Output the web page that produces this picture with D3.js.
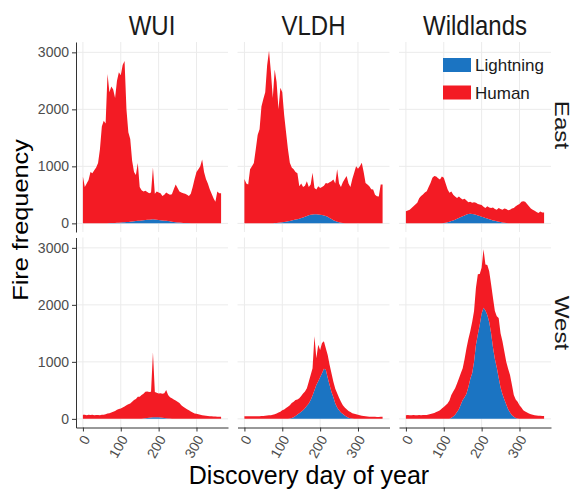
<!DOCTYPE html>
<html>
<head>
<meta charset="utf-8">
<script src="https://cdn.jsdelivr.net/npm/d3@7"></script>
<style>
  body { margin: 0; background: #fff; }
  text { font-family: "Liberation Sans", Arial, sans-serif; }
</style>
</head>
<body>
<script>
// day of year, 5-day steps
var days = d3.range(0, 365, 5);
var regions = ["WUI", "VLDH", "Wildlands"];
var zones = ["East", "West"];
var causes = ["Lightning", "Human"];
var xTicks = [0, 100, 200, 300];
var yTicks = [0, 1000, 2000, 3000];

var wuiEastLightning = [3,3,3,3,3,3,3,3,3,3, 3,3,3,4,5,6,7,8,10,12, 15,18,20,23,25,29,33,37,40,44, 48,52,55,58,62,65,68,70,68,64, 60,56,52,48,45,40,35,30,25,20, 16,13,10,8,6,5,5,4,4,4, 3,3,3,3,3,3,3,3,3,3, 3,3,3];
var wuiEastHuman = [817,637,697,757,897,877,927,977,1057,1297, 1697,1797,1747,2616,2295,2394,2343,2192,2490,2638, 2585,2762,2830,1977,1575,1451,1067,863,810,1016, 592,528,505,512,488,465,472,910,452,496, 480,474,428,452,495,480,465,480,575,660, 604,547,530,522,514,495,475,516,636,776, 897,947,997,1117,897,777,697,597,517,437, 377,557,527];

var vldhEastLightning = [3,3,3,3,3,3,3,3,3,3, 3,3,3,3,3,3,5,8,12,16, 20,25,30,36,42,50,58,66,74,82, 94,105,118,130,142,150,155,160,158,155, 150,145,138,128,115,95,75,55,40,28, 18,10,6,4,4,4,4,3,3,3, 3,3,3,3,3,3,3,3,3,3, 3,3,3];
var vldhEastHuman = [777,697,677,947,997,1057,1297,1547,1647,2047, 2177,2297,2767,3027,2647,2197,2695,2472,1988,2364, 2280,1875,1570,1264,1023,930,892,834,806,568, 606,535,542,610,498,530,735,460,436,495, 470,495,522,582,585,625,665,715,660,922, 682,630,714,776,826,696,636,777,887,997, 957,997,1062,897,707,677,647,597,591,497, 473,467,677];

var wildEastLightning = [2,2,2,2,2,2,2,2,2,2, 2,2,2,2,2,2,2,2,2,2, 5,10,18,28,40,52,65,80,95,110, 125,140,155,165,170,165,158,150,140,130, 118,106,95,84,72,62,52,44,36,30, 22,15,9,5,3,3,3,3,3,3, 3,3,3,3,3,3,3,3,3,3, 3,3,3];
var wildEastHuman = [210,223,238,268,298,328,358,438,478,504, 538,563,638,708,798,828,818,788,768,818, 795,690,582,507,520,448,405,367,375,330, 293,290,245,205,210,195,212,210,200,200, 202,184,175,216,208,208,228,206,204,240, 228,225,251,245,227,237,257,267,297,317, 337,377,387,377,337,297,257,237,217,197, 177,207,187];

var wuiWestLightning = [1,1,1,1,1,1,1,1,1,1, 1,1,1,1,1,1,1,1,1,1, 1,1,1,1,1,1,1,1,1,1, 2,4,6,10,15,20,25,28,30,30, 28,24,20,16,12,8,5,3,2,1, 1,1,1,1,1,1,1,1,1,1, 1,1,1,1,1,1,1,1,1,1, 1,1,1];
var wuiWestHuman = [69,71,64,69,65,69,63,65,67,64, 69,71,79,93,99,109,123,139,159,174, 181,199,214,239,254,269,299,329,349,389, 388,416,434,466,465,450,450,1142,440,430, 419,426,420,434,494,412,375,357,338,319, 299,279,239,211,189,169,152,129,109,93, 89,79,69,64,59,54,49,46,44,41, 39,37,34];

var vldhWestLightning = [2,2,2,2,2,2,2,2,2,2, 2,2,2,2,2,2,2,2,2,2, 2,2,2,2,5,15,30,50,75,100, 125,150,185,230,270,330,410,500,594,660, 730,800,880,860,720,594,470,380,270,200, 150,110,85,60,35,20,10,6,4,2, 2,2,2,2,2,2,2,2,2,2, 2,2,2];
var vldhWestHuman = [45,44,46,45,43,45,46,44,45,48, 50,53,56,60,63,68,78,92,108,123, 148,163,188,210,235,265,270,280,265,260, 275,297,295,305,380,440,480,950,471,640, 480,530,480,380,400,356,330,270,260,250, 220,190,155,140,135,120,110,94,86,78, 68,60,53,48,43,38,36,34,33,33, 32,31,33];

var wildWestLightning = [3,3,3,3,3,3,3,3,3,3, 3,3,3,3,3,3,3,3,3,3, 3,3,3,3,20,40,70,120,170,250, 330,380,440,560,700,800,1000,1300,1480,1650, 1850,1950,1900,1820,1700,1500,1250,1050,900,720, 550,430,340,250,170,110,65,35,15,8, 3,3,3,3,3,3,3,3,3,3, 3,3,3];
var wildWestHuman = [62,63,61,62,63,62,61,63,62,63, 63,65,72,82,91,102,117,132,150,177, 207,237,267,317,398,440,465,500,540,550, 560,670,800,840,835,900,890,1000,1055,890, 800,1025,810,880,890,860,870,840,900,1050, 950,930,840,750,710,660,535,383,325,292, 237,197,150,127,107,91,77,67,62,57, 52,52,47];

var panelData = {
  "East|WUI": [wuiEastLightning, wuiEastHuman],
  "East|VLDH": [vldhEastLightning, vldhEastHuman],
  "East|Wildlands": [wildEastLightning, wildEastHuman],
  "West|WUI": [wuiWestLightning, wuiWestHuman],
  "West|VLDH": [vldhWestLightning, vldhWestHuman],
  "West|Wildlands": [wildWestLightning, wildWestHuman]
};

var colors = { Lightning: "#1b74c2", Human: "#f31b24" };

var svg = d3.select("body").append("svg").attr("width", 577).attr("height", 491);

var colX = [76, 237.5, 399], rowY = [42, 237.5];
var pw = 152, ph = 190;

var x = d3.scaleLinear().domain([-18.25, 383.25]).range([0, pw]);

var maxTotal = d3.max(Object.values(panelData), function (p) {
  return d3.max(p[0], function (v, i) { return v + p[1][i]; });
});
var y = d3.scaleLinear().domain([-0.05 * maxTotal, 1.05 * maxTotal]).range([ph, 0]);

var stack = d3.stack().keys(causes);
var area = d3.area()
  .x(function (d) { return x(d.data.day); })
  .y0(function (d) { return y(d[0]); })
  .y1(function (d) { return y(d[1]); });

zones.forEach(function (zone, r) {
  regions.forEach(function (region, c) {
    var p = panelData[zone + "|" + region];
    var rows = days.map(function (d, i) { return { day: d, Lightning: p[0][i], Human: p[1][i] }; });
    var last = rows[rows.length - 1];
    rows.push({ day: 365, Lightning: last.Lightning, Human: last.Human });

    var g = svg.append("g").attr("transform", "translate(" + colX[c] + "," + rowY[r] + ")");

    // grid
    g.selectAll("line.gx").data(xTicks).enter().append("line")
      .attr("x1", function (d) { return x(d); }).attr("x2", function (d) { return x(d); })
      .attr("y1", 0).attr("y2", ph)
      .attr("stroke", "#ebebeb").attr("stroke-width", 1);
    g.selectAll("line.gy").data(yTicks).enter().append("line")
      .attr("x1", 0).attr("x2", pw)
      .attr("y1", function (d) { return y(d); }).attr("y2", function (d) { return y(d); })
      .attr("stroke", "#ebebeb").attr("stroke-width", 1);

    // start the areas with a vertical edge at day 0
    var series = stack(rows);
    g.selectAll("path.area").data(series).enter().append("path")
      .attr("d", area)
      .attr("fill", function (d) { return colors[d.key]; });

    if (c === 0) {
      var ya = g.append("g").call(d3.axisLeft(y).tickValues(yTicks).tickFormat(d3.format("d"))
        .tickSize(4).tickSizeOuter(0).tickPadding(3));
      ya.select(".domain").attr("stroke", "#333");
      ya.selectAll(".tick line").attr("stroke", "#333");
      ya.selectAll("text").attr("font-size", 14).attr("fill", "#4d4d4d")
        .attr("font-family", "Liberation Sans, Arial, sans-serif");
    }
    if (r === 1) {
      var xa = g.append("g").attr("transform", "translate(0," + ph + ")")
        .call(d3.axisBottom(x).tickValues(xTicks).tickSize(4).tickSizeOuter(0));
      xa.select(".domain").attr("stroke", "#333");
      xa.selectAll(".tick line").attr("stroke", "#333");
      xa.selectAll("text").attr("font-size", 14).attr("fill", "#4d4d4d")
        .attr("font-family", "Liberation Sans, Arial, sans-serif")
        .attr("x", 0).attr("y", 0).attr("dy", "0.35em")
        .attr("text-anchor", "end")
        .attr("transform", "translate(3,9) rotate(-60)");
    }
  });
});

// column strips
regions.forEach(function (region, c) {
  svg.append("text")
    .attr("transform", "translate(" + (colX[c] + pw / 2) + ",35) scale(1,1.15)")
    .attr("text-anchor", "middle").attr("font-size", 24).attr("fill", "#1a1a1a")
    .text(region);
});

// row strips
var rowLabelY = [125, 323];
zones.forEach(function (zone, r) {
  svg.append("text")
    .attr("transform", "translate(555," + rowLabelY[r] + ") rotate(90) scale(1.15,1)")
    .attr("text-anchor", "middle").attr("font-size", 21).attr("fill", "#1a1a1a")
    .text(zone);
});

// axis titles
svg.append("text")
  .attr("transform", "translate(28,220) rotate(-90) scale(1.15,1)")
  .attr("text-anchor", "middle").attr("font-size", 22).attr("fill", "#000")
  .text("Fire frequency");
svg.append("text")
  .attr("x", 309).attr("y", 484)
  .attr("text-anchor", "middle").attr("font-size", 25).attr("fill", "#000")
  .text("Discovery day of year");

// legend
var legend = svg.append("g").attr("transform", "translate(443,58)");
var legendOrder = ["Lightning", "Human"];
legend.selectAll("rect").data(legendOrder).enter().append("rect")
  .attr("x", 0).attr("y", function (d, i) { return i * 27.5; })
  .attr("width", 28).attr("height", 14)
  .attr("fill", function (d) { return colors[d]; });
legend.selectAll("text").data(legendOrder).enter().append("text")
  .attr("x", 32).attr("y", function (d, i) { return i * 27.5 + 7; })
  .attr("dy", "0.36em").attr("font-size", 17).attr("fill", "#1a1a1a")
  .text(function (d) { return d; });
</script>
</body>
</html>
